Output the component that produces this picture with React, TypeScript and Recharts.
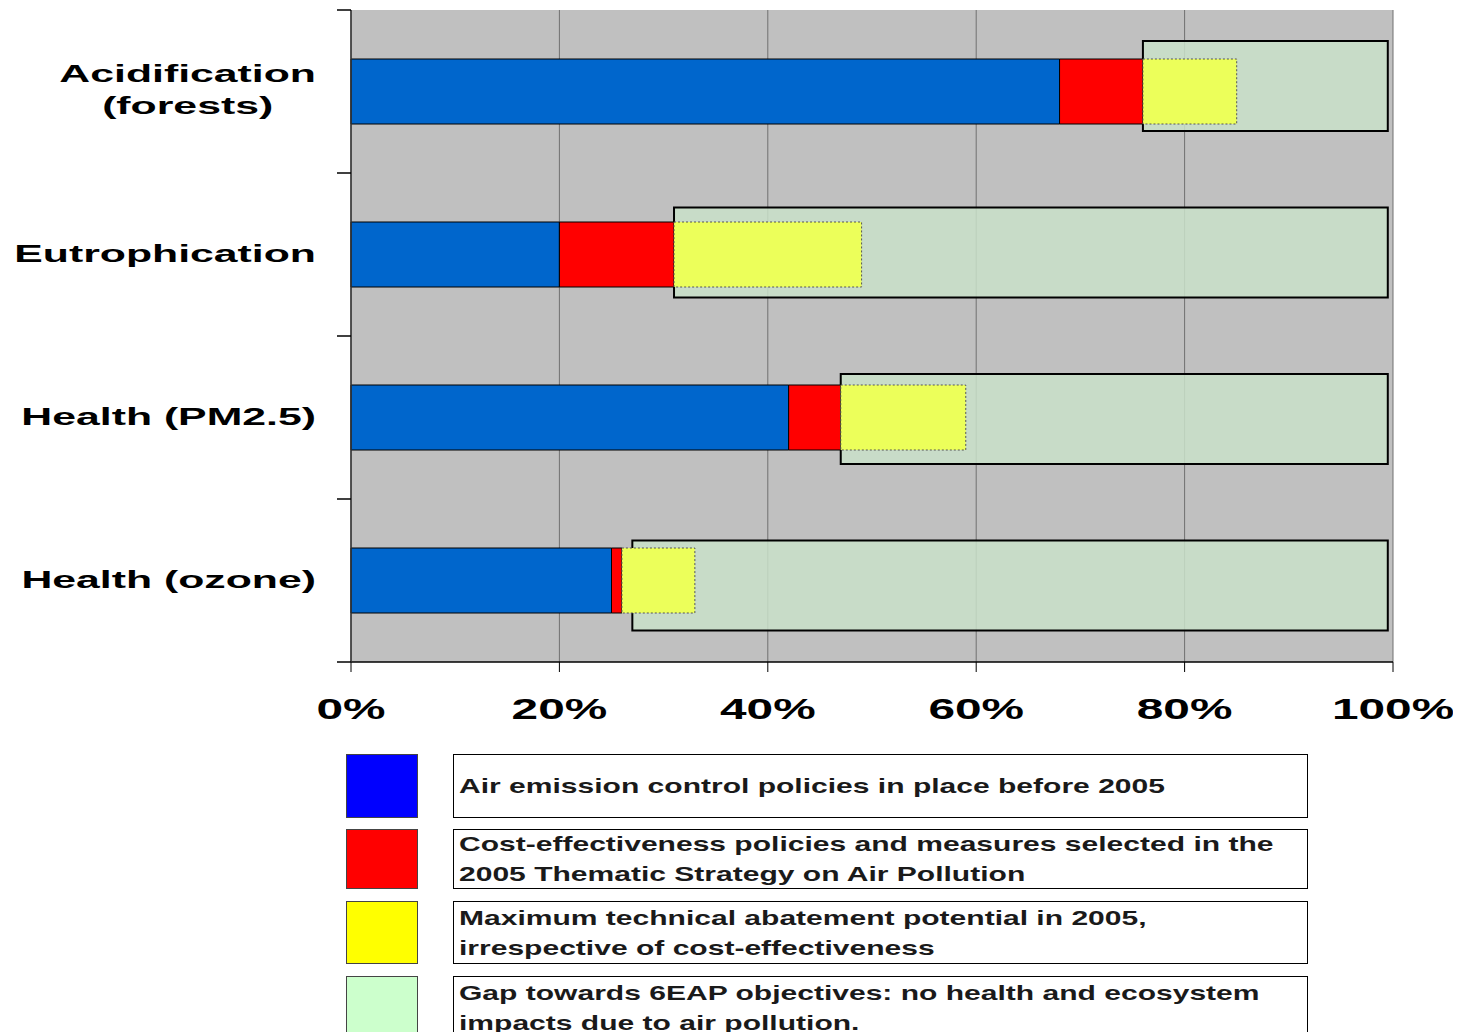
import React from 'react';
import { BarChart, Bar, XAxis, YAxis, CartesianGrid } from 'recharts';

// Share of the way to the 6EAP objectives, in percent
const categories = ['Acidification (forests)', 'Eutrophication', 'Health (PM2.5)', 'Health (ozone)'];
const categoryLines: Record<string, string[]> = {
  'Acidification (forests)': ['Acidification', '(forests)'],
};
const policiesBefore2005 = [68, 20, 42, 25];
const thematicStrategy = [8, 11, 5, 1];
const maxTechnical = [9, 18, 12, 7];
const gapStart = [76, 31, 47, 27];
const gapEnd = [99.5, 99.5, 99.5, 99.5];
const percentTicks = [0, 20, 40, 60, 80, 100];

const legendLabels = [
  ['Air emission control policies in place before 2005'],
  ['Cost-effectiveness policies and measures selected in the', '2005 Thematic Strategy on Air Pollution'],
  ['Maximum technical abatement potential in 2005,', 'irrespective of cost-effectiveness'],
  ['Gap towards 6EAP objectives: no health and ecosystem', 'impacts due to air pollution.'],
];
const legendColors = ['#0000ff', '#ff0000', '#ffff00', '#ccffcc'];

const data = categories.map((name, i) => ({
  name,
  blue: policiesBefore2005[i],
  red: thematicStrategy[i],
  yellow: maxTechnical[i],
  gap: [gapStart[i], gapEnd[i]],
}));

const FONT = '"Liberation Sans", Arial, sans-serif';
const LABEL_SIZE = 23;
const LABEL_STRETCH = 1.86;
const LABEL_LINE = 32;
const LABEL_MARGIN = 35;
const BOUNDARY_TICK = 14;
const TICK_SIZE = 29.5;
const TICK_STRETCH = 1.62;
const PLOT_HEIGHT = 652;

let measureCtx: CanvasRenderingContext2D | null = null;
function textWidth(text: string, font: string): number {
  if (!measureCtx) measureCtx = document.createElement('canvas').getContext('2d');
  if (!measureCtx) return text.length * 12;
  measureCtx.font = font;
  return measureCtx.measureText(text).width;
}

// Category label plus the tick marks on the band boundaries either side of it
function CategoryTick(props: any) {
  const { x, y, payload } = props;
  const lines = categoryLines[payload.value] ?? [payload.value];
  const block = Math.max(...lines.map((l) => textWidth(l, `bold ${LABEL_SIZE}px ${FONT}`)));
  const half = typeof payload.offset === 'number' && payload.offset > 0 ? payload.offset : PLOT_HEIGHT / categories.length / 2;
  const axisX = x + LABEL_MARGIN;
  const idx = categories.indexOf(payload.value);
  const isLast = idx === categories.length - 1;
  const firstBaseline = 7.5 - (lines.length - 1) * 17;
  return (
    <g>
      <line x1={axisX - BOUNDARY_TICK} x2={axisX} y1={y - half} y2={y - half} stroke="#000" strokeWidth={1.5} />
      {isLast && <line x1={axisX - BOUNDARY_TICK} x2={axisX} y1={y + half} y2={y + half} stroke="#000" strokeWidth={1.5} />}
      <g transform={`translate(${x},${y}) scale(${LABEL_STRETCH},1)`}>
        {lines.map((line, i) => (
          <text
            key={i}
            x={-block / 2}
            y={firstBaseline + i * LABEL_LINE}
            textAnchor="middle"
            fontFamily={FONT}
            fontWeight="bold"
            fontSize={LABEL_SIZE}
            fill="#000"
          >
            {line}
          </text>
        ))}
      </g>
    </g>
  );
}

function PercentTick(props: any) {
  const { x, y, payload } = props;
  return (
    <g transform={`translate(${x},${y}) scale(${TICK_STRETCH},1)`}>
      <text x={0} y={47} textAnchor="middle" fontFamily={FONT} fontWeight="bold" fontSize={TICK_SIZE} fill="#000">
        {`${payload.value}%`}
      </text>
    </g>
  );
}

const legendRows = [
  { top: 746, height: 64 },
  { top: 821, height: 60 },
  { top: 893, height: 63 },
  { top: 968, height: 64 },
];

export default function App() {
  return (
    <div style={{ position: 'relative', width: 1453, height: 1024, fontFamily: FONT }}>
      <BarChart
        width={1453}
        height={730}
        data={data}
        layout="vertical"
        margin={{ top: 2, right: 68, bottom: 0, left: 0 }}
      >
        <CartesianGrid horizontal={false} stroke="#707070" fill="#c0c0c0" yAxisId="main" />
        <XAxis
          type="number"
          domain={[0, 100]}
          ticks={percentTicks}
          interval={0}
          height={76}
          axisLine={{ stroke: '#000', strokeWidth: 1.5 }}
          tickLine={{ stroke: '#000' }}
          tickSize={10}
          tickMargin={0}
          tick={<PercentTick />}
        />
        <XAxis
          xAxisId="top"
          orientation="top"
          type="number"
          domain={[0, 100]}
          height={0}
          tick={false}
          tickLine={false}
          axisLine={{ stroke: '#a0a0a0', strokeWidth: 2 }}
        />
        <YAxis
          yAxisId="main"
          type="category"
          dataKey="name"
          width={343}
          tickLine={false}
          tickSize={0}
          tickMargin={LABEL_MARGIN}
          axisLine={{ stroke: '#333', strokeWidth: 1.5 }}
          tick={<CategoryTick />}
        />
        <YAxis yAxisId="gap" type="category" dataKey="name" hide width={0} padding={{ top: -7, bottom: -7 }} />
        <YAxis
          yAxisId="right"
          orientation="right"
          type="category"
          dataKey="name"
          width={0}
          tick={false}
          tickLine={false}
          axisLine={{ stroke: '#a0a0a0', strokeWidth: 2 }}
        />

        <Bar
          yAxisId="gap"
          dataKey="gap"
          fill="#c9e1c9"
          fillOpacity={0.85}
          stroke="#000"
          strokeWidth={2}
          barSize={90}
          isAnimationActive={false}
        />
        <Bar yAxisId="main" stackId="s" dataKey="blue" fill="#0066cc" stroke="#000" strokeWidth={1} barSize={65} isAnimationActive={false} />
        <Bar yAxisId="main" stackId="s" dataKey="red" fill="#ff0000" stroke="#000" strokeWidth={1} barSize={65} isAnimationActive={false} />
        <Bar
          yAxisId="main"
          stackId="s"
          dataKey="yellow"
          fill="#ecff5a"
          stroke="#555"
          strokeWidth={1}
          strokeDasharray="2 2"
          barSize={65}
          isAnimationActive={false}
        />
      </BarChart>

      {legendRows.map((row, i) => (
        <React.Fragment key={i}>
          <div
            style={{
              position: 'absolute',
              left: 338,
              top: row.top,
              width: 70,
              height: row.height - 2,
              background: legendColors[i],
              border: '1px solid #444',
            }}
          />
          <div
            style={{
              position: 'absolute',
              left: 445,
              top: row.top,
              width: 853,
              height: row.height - 2,
              border: '1px solid #000',
              background: '#fff',
              display: 'flex',
              alignItems: 'center',
              overflow: 'hidden',
            }}
          >
            <div
              style={{
                marginLeft: 5,
                transform: 'scaleX(1.43)',
                transformOrigin: 'left center',
                whiteSpace: 'nowrap',
                fontWeight: 'bold',
                fontSize: 21,
                lineHeight: '30px',
                color: '#1a1a1a',
              }}
            >
              {legendLabels[i].map((line, j) => (
                <div key={j}>{line}</div>
              ))}
            </div>
          </div>
        </React.Fragment>
      ))}
    </div>
  );
}
